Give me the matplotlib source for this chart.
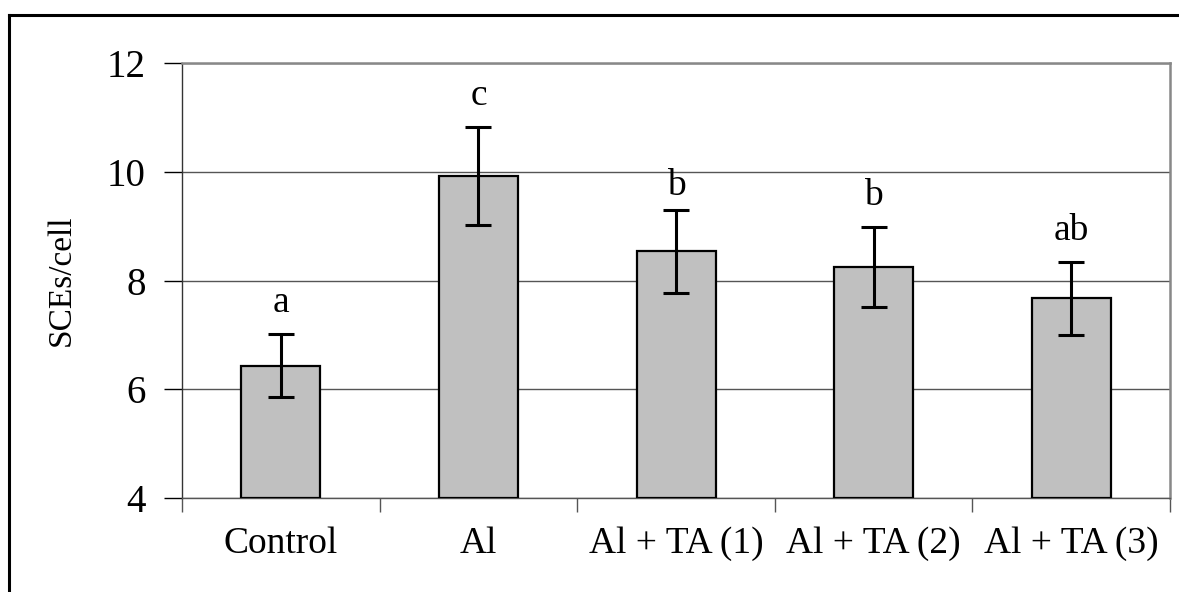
import matplotlib
matplotlib.use("Agg")
import matplotlib.pyplot as plt
from matplotlib.lines import Line2D
import numpy as np

groups = ["Control", "Al", "Al + TA (1)", "Al + TA (2)", "Al + TA (3)"]
means = [6.44, 9.93, 8.54, 8.25, 7.68]
errors = [0.58, 0.90, 0.76, 0.74, 0.67]
letters = ["a", "c", "b", "b", "ab"]
letter_y = [7.43, 11.23, 9.58, 9.39, 8.75]

plt.rcParams["font.family"] = ["Liberation Serif", "DejaVu Serif"]

fig = plt.figure(figsize=(11.79, 5.92), dpi=100)
ax = fig.add_axes([0.1544, 0.1583, 0.838, 0.7353])

x = np.arange(len(groups))
ax.bar(x, [m - 4 for m in means], 0.4, bottom=4, color="#c0c0c0",
       edgecolor="black", linewidth=1.6, zorder=3)
ax.errorbar(x, means, yerr=errors, fmt="none", ecolor="black",
            elinewidth=2.2, capsize=9.5, capthick=2.2, zorder=4)
for i in range(len(groups)):
    ax.text(x[i], letter_y[i], letters[i], ha="center", va="baseline",
            fontsize=27)

ax.set_xlim(-0.5, 4.5)
ax.set_ylim(4, 12)
ax.set_yticks([4, 6, 8, 10, 12])
ax.yaxis.grid(True, color="#555555", linewidth=1.0)
ax.set_axisbelow(True)

ax.set_xticks(x)
ax.set_xticklabels(groups, fontsize=27)
ax.set_xticks(np.arange(-0.5, 5, 1), minor=True)
ax.tick_params(axis="x", which="major", length=0, pad=20)
ax.tick_params(axis="x", which="minor", length=10, width=1, color="#555555",
               direction="out")
ax.tick_params(axis="y", labelsize=28, length=13, width=1, pad=13,
               direction="out")
ax.set_ylabel("SCEs/cell", fontsize=24, labelpad=22)

ax.spines["left"].set_color("#333333")
ax.spines["left"].set_linewidth(1.0)
ax.spines["bottom"].set_color("#555555")
ax.spines["bottom"].set_linewidth(1.0)
for s in ("top", "right"):
    ax.spines[s].set_color("#888888")
    ax.spines[s].set_linewidth(1.8)

# outer frame (cut off at right and bottom)
x0 = 9.5 / 1179
y0 = 1 - 14.5 / 592
fig.add_artist(Line2D([x0, x0], [-0.05, y0], transform=fig.transFigure,
                      color="black", linewidth=2.2))
fig.add_artist(Line2D([x0, 1.05], [y0, y0], transform=fig.transFigure,
                      color="black", linewidth=2.2))

fig.savefig("out.png", dpi=100)
